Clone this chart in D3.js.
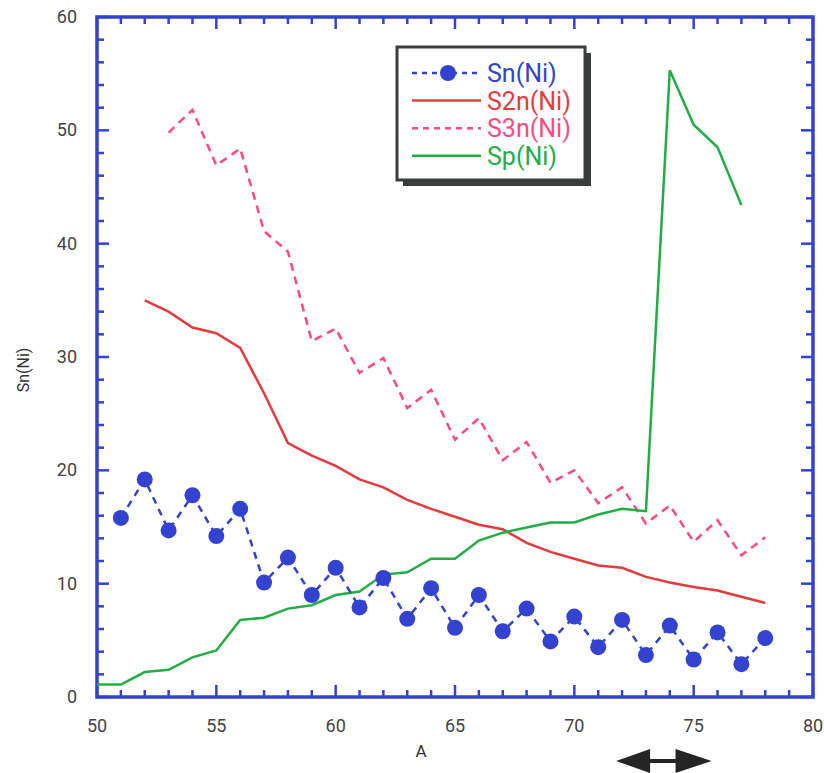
<!DOCTYPE html>
<html>
<head>
<meta charset="utf-8">
<script src="https://cdn.jsdelivr.net/npm/d3@7"></script>
<style>
  body { margin: 0; background: #fff; }
  text { font-family: Roboto, "Noto Sans", sans-serif; }
</style>
</head>
<body>
<div id="chart"></div>
<script>
// mass numbers
const aSn = [51, 52, 53, 54, 55, 56, 57, 58, 59, 60, 61, 62, 63, 64, 65, 66, 67, 68, 69, 70, 71, 72, 73, 74, 75, 76, 77, 78];
const sn = [15.8, 19.2, 14.7, 17.8, 14.2, 16.6, 10.1, 12.3, 9.0, 11.4, 7.9, 10.5, 6.9, 9.6, 6.1, 9.0, 5.8, 7.8, 4.9, 7.1, 4.4, 6.8, 3.7, 6.3, 3.3, 5.7, 2.9, 5.2];

const aS2n = [52, 53, 54, 55, 56, 57, 58, 59, 60, 61, 62, 63, 64, 65, 66, 67, 68, 69, 70, 71, 72, 73, 74, 75, 76, 77, 78];
const s2n = [35.0, 34.0, 32.6, 32.1, 30.8, 26.8, 22.4, 21.3, 20.4, 19.2, 18.5, 17.4, 16.6, 15.9, 15.2, 14.8, 13.6, 12.8, 12.2, 11.6, 11.4, 10.6, 10.1, 9.7, 9.4, 8.85, 8.3];

const aS3n = [53, 54, 55, 56, 57, 58, 59, 60, 61, 62, 63, 64, 65, 66, 67, 68, 69, 70, 71, 72, 73, 74, 75, 76, 77, 78];
const s3n = [49.8, 51.8, 46.9, 48.4, 41.1, 39.3, 31.4, 32.5, 28.6, 29.9, 25.5, 27.1, 22.7, 24.6, 20.9, 22.5, 18.9, 20.0, 17.1, 18.5, 15.3, 16.9, 13.7, 15.6, 12.5, 14.1];

const aSp = [50, 51, 52, 53, 54, 55, 56, 57, 58, 59, 60, 61, 62, 63, 64, 65, 66, 67, 68, 69, 70, 71, 72, 73, 74, 75, 76, 77];
const sp = [1.1, 1.1, 2.2, 2.4, 3.5, 4.1, 6.8, 7.0, 7.8, 8.1, 9.0, 9.3, 10.8, 11.0, 12.2, 12.2, 13.8, 14.5, 14.95, 15.4, 15.4, 16.1, 16.6, 16.4, 55.3, 50.5, 48.5, 43.4];

const xTicks = [50, 55, 60, 65, 70, 75, 80];
const yTicks = [0, 10, 20, 30, 40, 50, 60];
const legendNames = ["Sn(Ni)", "S2n(Ni)", "S3n(Ni)", "Sp(Ni)"];
const arrowSpan = [71.75, 75.75];

const W = 824, H = 773;
const margin = { top: 17, right: 11, bottom: 76, left: 97 };
const width = W - margin.left - margin.right,
  height = H - margin.top - margin.bottom;

const blue = "#3343cf", red = "#e43c3e", pink = "#ff4a80", green = "#22ad45";

const svg = d3.select("#chart").append("svg")
  .attr("width", W).attr("height", H);
const g = svg.append("g")
  .attr("transform", "translate(" + margin.left + "," + margin.top + ")");

const x = d3.scaleLinear().domain([50, 80]).range([0, width]);
const y = d3.scaleLinear().domain([0, 60]).range([height, 0]);

// ticks on all four sides, pointing inward
const xMinor = d3.range(50, 81, 1), yMinor = d3.range(0, 61, 2);
function tickLen(v, majors) { return majors.indexOf(v) >= 0 ? 12 : 7; }

const ticks = g.append("g").attr("stroke", blue).attr("stroke-width", 2.5);
xMinor.forEach(function (v) {
  const L = tickLen(v, xTicks);
  ticks.append("line").attr("x1", x(v)).attr("x2", x(v)).attr("y1", height).attr("y2", height - L);
  ticks.append("line").attr("x1", x(v)).attr("x2", x(v)).attr("y1", 0).attr("y2", L);
});
yMinor.forEach(function (v) {
  const L = tickLen(v, yTicks);
  ticks.append("line").attr("x1", 0).attr("x2", L).attr("y1", y(v)).attr("y2", y(v));
  ticks.append("line").attr("x1", width).attr("x2", width - L).attr("y1", y(v)).attr("y2", y(v));
});

// frame
g.append("rect").attr("width", width).attr("height", height)
  .attr("fill", "none").attr("stroke", blue).attr("stroke-width", 3.5);

// tick labels
g.selectAll(".xl").data(xTicks).enter().append("text")
  .attr("x", function (d) { return x(d); }).attr("y", height + 35)
  .attr("text-anchor", "middle").attr("font-size", 18).attr("fill", "#444")
  .text(function (d) { return d; });
g.selectAll(".yl").data(yTicks).enter().append("text")
  .attr("x", -20).attr("y", function (d) { return y(d) + 6; })
  .attr("text-anchor", "end").attr("font-size", 18).attr("fill", "#444")
  .text(function (d) { return d; });

// axis titles
svg.append("text").attr("x", 421).attr("y", 757)
  .attr("text-anchor", "middle").attr("font-size", 17).attr("fill", "#333").text("A");
svg.append("text").attr("transform", "translate(29,370) rotate(-90)")
  .attr("text-anchor", "middle").attr("font-size", 16).attr("fill", "#333").text("Sn(Ni)");

function series(a, v) { return a.map(function (d, i) { return [d, v[i]]; }); }
const line = d3.line().x(function (d) { return x(d[0]); }).y(function (d) { return y(d[1]); });

g.append("path").datum(series(aS2n, s2n)).attr("d", line)
  .attr("fill", "none").attr("stroke", red).attr("stroke-width", 2.5);
g.append("path").datum(series(aS3n, s3n)).attr("d", line)
  .attr("fill", "none").attr("stroke", pink).attr("stroke-width", 2.5)
  .attr("stroke-dasharray", "8,6");
g.append("path").datum(series(aSp, sp)).attr("d", line)
  .attr("fill", "none").attr("stroke", green).attr("stroke-width", 2.5);
g.append("path").datum(series(aSn, sn)).attr("d", line)
  .attr("fill", "none").attr("stroke", blue).attr("stroke-width", 2.5)
  .attr("stroke-dasharray", "7,6");
g.selectAll(".dot").data(series(aSn, sn)).enter().append("circle")
  .attr("cx", function (d) { return x(d[0]); }).attr("cy", function (d) { return y(d[1]); })
  .attr("r", 8).attr("fill", blue);

// legend
const lg = svg.append("g").attr("transform", "translate(397,47)");
lg.append("rect").attr("x", 6).attr("y", 6).attr("width", 188).attr("height", 133).attr("fill", "#3a3d3d");
lg.append("rect").attr("width", 188).attr("height", 133)
  .attr("fill", "#fff").attr("stroke", "#3a3d3d").attr("stroke-width", 3);
const lcol = [blue, red, pink, green];
const ldash = ["5,5", null, "6,5", null];
legendNames.forEach(function (name, i) {
  const yy = 26 + i * 27.6;
  lg.append("line").attr("x1", 15).attr("x2", 84).attr("y1", yy).attr("y2", yy)
    .attr("stroke", lcol[i]).attr("stroke-width", 2.5).attr("stroke-dasharray", ldash[i]);
  if (i == 0) lg.append("circle").attr("cx", 51).attr("cy", yy).attr("r", 8).attr("fill", blue);
  lg.append("text").attr("x", 90).attr("y", yy + 9).attr("font-size", 25)
    .attr("fill", lcol[i]).text(name);
});

// double arrow under the axis
const ax0 = margin.left + x(arrowSpan[0]), ax1 = margin.left + x(arrowSpan[1]), ay = 761;
svg.append("path")
  .attr("d", "M" + ax0 + "," + ay + "L" + (ax0 + 34) + "," + (ay - 12) + "L" + (ax0 + 34) + "," + (ay - 2) +
    "L" + (ax1 - 36) + "," + (ay - 2) + "L" + (ax1 - 36) + "," + (ay - 12) + "L" + ax1 + "," + ay +
    "L" + (ax1 - 36) + "," + (ay + 12) + "L" + (ax1 - 36) + "," + (ay + 2) + "L" + (ax0 + 34) + "," + (ay + 2) +
    "L" + (ax0 + 34) + "," + (ay + 12) + "Z")
  .attr("fill", "#252525");
</script>
</body>
</html>
